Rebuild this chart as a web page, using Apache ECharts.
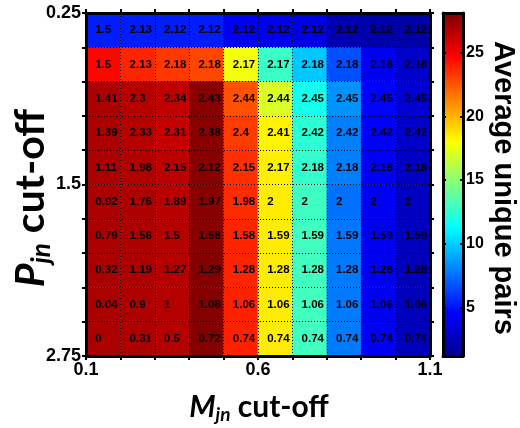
<!DOCTYPE html>
<html>
<head>
<meta charset="utf-8">
<script src="https://cdn.jsdelivr.net/npm/echarts@6/dist/echarts.min.js"></script>
<style>html,body{margin:0;padding:0;background:#fff;}#c{width:520px;height:428px;}</style>
</head>
<body>
<div id="c"></div>
<script>
// M_jn cut-off columns (cell centres) and P_jn cut-off rows (cell centres, top to bottom)
const mCategories = ['0.15','0.25','0.35','0.45','0.55','0.65','0.75','0.85','0.95','1.05'];
const pCategories = ['0.375','0.625','0.875','1.125','1.375','1.625','1.875','2.125','2.375','2.625'];

// Tick labels
const xTickLabels = ['0.1','0.6','1.1'];
const yTickLabels = ['0.25','1.5','2.75'];
const colorbarTicks = [5,10,15,20,25];

// Colour values: average unique pairs (rows top to bottom)
const pairsRow1  = [5.3, 5.3, 5.3, 5.3, 4.2, 4.0, 3.8, 2.2, 2.0, 1.9];
const pairsRow2  = [24.6, 23.8, 23.3, 22.9, 17.7, 12.8, 9.8, 6.6, 4.2, 3.0];
const pairsRow3  = [26.9, 26.7, 26.4, 27.9, 22.6, 17.0, 11.8, 8.4, 4.6, 3.2];
const pairsRow4  = [27.0, 26.7, 26.3, 27.9, 23.2, 18.3, 12.4, 7.9, 4.5, 3.0];
const pairsRow5  = [27.0, 26.8, 26.5, 27.9, 23.5, 18.4, 12.6, 7.9, 4.3, 2.8];
const pairsRow6  = [27.0, 26.9, 26.6, 27.9, 23.6, 18.5, 12.9, 7.5, 4.2, 2.7];
const pairsRow7  = [27.0, 26.9, 26.7, 27.9, 23.8, 18.5, 13.0, 7.7, 4.1, 2.6];
const pairsRow8  = [27.0, 26.9, 26.7, 28.0, 23.8, 18.5, 13.0, 7.8, 4.2, 2.5];
const pairsRow9  = [27.0, 26.9, 26.7, 28.0, 23.9, 18.5, 13.0, 7.8, 4.2, 2.5];
const pairsRow10 = [27.0, 26.9, 26.7, 28.0, 23.9, 18.5, 13.0, 7.8, 4.2, 2.5];

// Cell text values (rows top to bottom)
const textRow1  = ['1.5','2.13','2.12','2.12','2.12','2.12','2.12','2.12','2.12','2.12'];
const textRow2  = ['1.5','2.13','2.18','2.18','2.17','2.17','2.18','2.18','2.18','2.18'];
const textRow3  = ['1.41','2.3','2.34','2.43','2.44','2.44','2.45','2.45','2.45','2.45'];
const textRow4  = ['1.39','2.33','2.31','2.38','2.4','2.41','2.42','2.42','2.42','2.42'];
const textRow5  = ['1.11','1.98','2.15','2.12','2.15','2.17','2.18','2.18','2.18','2.18'];
const textRow6  = ['0.92','1.76','1.89','1.97','1.98','2','2','2','2','2'];
const textRow7  = ['0.79','1.56','1.5','1.58','1.58','1.59','1.59','1.59','1.59','1.59'];
const textRow8  = ['0.32','1.19','1.27','1.29','1.28','1.28','1.28','1.28','1.28','1.28'];
const textRow9  = ['0.04','0.9','1','1.08','1.06','1.06','1.06','1.06','1.06','1.06'];
const textRow10 = ['0','0.31','0.5','0.72','0.74','0.74','0.74','0.74','0.74','0.74'];

const colorMin = 1.2, colorMax = 28.1;

const pairRows = [pairsRow1,pairsRow2,pairsRow3,pairsRow4,pairsRow5,pairsRow6,pairsRow7,pairsRow8,pairsRow9,pairsRow10];
const textRows = [textRow1,textRow2,textRow3,textRow4,textRow5,textRow6,textRow7,textRow8,textRow9,textRow10];
const heatData = [];
pairRows.forEach((row, r) => row.forEach((v, c) => heatData.push([c, r, v, textRows[r][c]])));

const jet = ['#000090','#0000ff','#0080ff','#00ffff','#80ff80','#ffff00','#ff8000','#ff0000','#800000'];
const FONT = '"Liberation Sans", Arial, sans-serif';
const TITLE_FONT = 'Lato, "Open Sans", sans-serif';

function pick(list, v){ for (const s of list){ if (Math.abs(parseFloat(s) - v) < 1e-6) return s; } return ''; }

const blackLine = w => ({ show: true, onZero: false, lineStyle: { color: '#000', width: w } });

const chart = echarts.init(document.getElementById('c'), null, { renderer: 'canvas' });
chart.setOption({
  animation: false,
  backgroundColor: '#fff',
  grid: [
    { left: 86, top: 13, width: 344, height: 343 },
    { left: 443, top: 13, width: 20, height: 343 }
  ],
  xAxis: [
    { type: 'category', gridIndex: 0, data: mCategories, show: false },
    { type: 'value', gridIndex: 0, min: 0.1, max: 1.1, interval: 0.1, position: 'bottom', z: 10,
      axisLine: blackLine(3),
      axisTick: { show: true, length: 4, lineStyle: { color: '#000', width: 2 } },
      axisLabel: { color: '#000', fontFamily: FONT, fontWeight: 'bold', fontSize: 18, margin: 5,
        formatter: v => pick(xTickLabels, v) },
      splitLine: { show: true, lineStyle: { color: '#000', width: 1, type: [1, 2] } } },
    { type: 'value', gridIndex: 0, min: 0.1, max: 1.1, interval: 0.1, position: 'top', z: 10,
      axisLine: blackLine(3),
      axisTick: { show: true, length: 4, lineStyle: { color: '#000', width: 2 } },
      axisLabel: { show: false }, splitLine: { show: false } },
    { type: 'value', gridIndex: 1, min: 0, max: 1, position: 'bottom', z: 10,
      axisLine: blackLine(3), axisTick: { show: false }, axisLabel: { show: false }, splitLine: { show: false } },
    { type: 'value', gridIndex: 1, min: 0, max: 1, position: 'top', z: 10,
      axisLine: blackLine(3), axisTick: { show: false }, axisLabel: { show: false }, splitLine: { show: false } }
  ],
  yAxis: [
    { type: 'category', gridIndex: 0, data: pCategories, inverse: true, show: false },
    { type: 'value', gridIndex: 0, min: 0.25, max: 2.75, interval: 0.25, inverse: true, position: 'left', z: 10,
      axisLine: blackLine(3),
      axisTick: { show: true, length: 4, lineStyle: { color: '#000', width: 2 } },
      axisLabel: { color: '#000', fontFamily: FONT, fontWeight: 'bold', fontSize: 18, margin: 5,
        formatter: v => pick(yTickLabels, v) },
      splitLine: { show: true, lineStyle: { color: '#000', width: 1, type: [1, 2] } } },
    { type: 'value', gridIndex: 0, min: 0.25, max: 2.75, interval: 0.25, inverse: true, position: 'right', z: 10,
      axisLine: blackLine(3),
      axisTick: { show: true, length: 4, lineStyle: { color: '#000', width: 2 } },
      axisLabel: { show: false }, splitLine: { show: false } },
    { type: 'value', gridIndex: 1, min: colorMin, max: colorMax, position: 'right', z: 10,
      axisLine: blackLine(3),
      axisTick: { show: true, inside: true, length: 3, customValues: colorbarTicks, lineStyle: { color: '#000', width: 2 } },
      axisLabel: { color: '#000', fontFamily: FONT, fontWeight: 'bold', fontSize: 16, margin: 3, customValues: colorbarTicks },
      splitLine: { show: false } },
    { type: 'value', gridIndex: 1, min: colorMin, max: colorMax, position: 'left', z: 10,
      axisLine: blackLine(3),
      axisTick: { show: true, inside: true, length: 3, customValues: colorbarTicks, lineStyle: { color: '#000', width: 2 } },
      axisLabel: { show: false }, splitLine: { show: false } }
  ],
  visualMap: {
    type: 'continuous', min: colorMin, max: colorMax, dimension: 2, seriesIndex: 0,
    calculable: false, left: 443, top: 13, itemWidth: 20, itemHeight: 343, padding: 0,
    inRange: { color: jet }, text: null, showLabel: false
  },
  series: [{
    type: 'heatmap', xAxisIndex: 0, yAxisIndex: 0, data: heatData,
    label: { show: true, formatter: p => p.value[3], color: '#000', fontFamily: FONT, fontWeight: 'bold',
      fontSize: 11.5, align: 'left', offset: [-8, 0] },
    emphasis: { disabled: true }
  }],
  graphic: [
    { type: 'text', x: 259, y: 407, style: {
        text: '{a|M}{b|jn}{c| cut-off}', align: 'center', verticalAlign: 'middle',
        rich: {
          a: { fontFamily: TITLE_FONT, fontWeight: 'bold', fontStyle: 'italic', fontSize: 30, fill: '#000' },
          b: { fontFamily: TITLE_FONT, fontWeight: 'bold', fontStyle: 'italic', fontSize: 19, fill: '#000', padding: [16, 0, 0, 0] },
          c: { fontFamily: TITLE_FONT, fontWeight: 'bold', fontSize: 30, fill: '#000' }
        } } },
    { type: 'text', x: 31, y: 198, rotation: Math.PI / 2, style: {
        text: '{a|P}{b|jn}{c| cut-off}', align: 'center', verticalAlign: 'middle',
        rich: {
          a: { fontFamily: TITLE_FONT, fontWeight: 'bold', fontStyle: 'italic', fontSize: 41, fill: '#000' },
          b: { fontFamily: TITLE_FONT, fontWeight: 'bold', fontStyle: 'italic', fontSize: 26, fill: '#000', padding: [22, 0, 0, 0] },
          c: { fontFamily: TITLE_FONT, fontWeight: 'bold', fontSize: 41, fill: '#000' }
        } } },
    { type: 'text', x: 503, y: 188, rotation: -Math.PI / 2, style: {
        text: 'Average unique pairs', align: 'center', verticalAlign: 'middle',
        font: 'bold 29px "Liberation Sans", Arial, sans-serif', fill: '#000' } }
  ]
});
</script>
</body>
</html>
